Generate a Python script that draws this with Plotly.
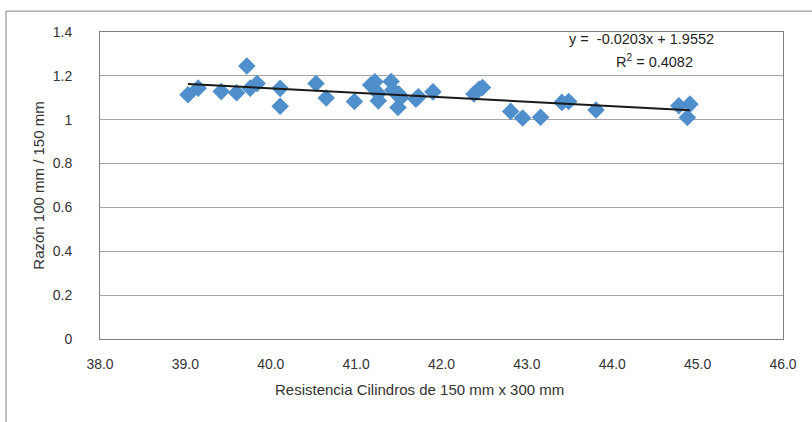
import plotly.graph_objects as go

resistencia = [39.03, 39.15, 39.42, 39.60, 39.72, 39.76, 39.84, 40.11, 40.11, 40.53,
               40.65, 40.98, 41.17, 41.22, 41.26, 41.26, 41.41, 41.43, 41.50, 41.49,
               41.52, 41.70, 41.73, 41.90, 42.38, 42.44, 42.48, 42.81, 42.95, 43.16,
               43.41, 43.49, 43.81, 44.78, 44.91, 44.88]
razon = [1.114, 1.144, 1.129, 1.123, 1.245, 1.144, 1.165, 1.143, 1.061, 1.165,
         1.099, 1.083, 1.158, 1.173, 1.120, 1.086, 1.174, 1.135, 1.117, 1.056,
         1.099, 1.094, 1.105, 1.127, 1.117, 1.139, 1.147, 1.038, 1.008, 1.011,
         1.079, 1.083, 1.044, 1.064, 1.071, 1.010]

slope = -0.0203
intercept = 1.9552
r2_text = "0.4082"

x_ticks = [38, 39, 40, 41, 42, 43, 44, 45, 46]
y_ticks = [0, 0.2, 0.4, 0.6, 0.8, 1.0, 1.2, 1.4]

x_title = "Resistencia Cilindros de 150 mm x 300 mm"
y_title = "Razón 100 mm / 150 mm"

trend_x = [min(resistencia), max(resistencia)]
trend_y = [slope * v + intercept for v in trend_x]

fig = go.Figure()
fig.add_trace(go.Scatter(
    x=resistencia, y=razon, mode="markers",
    marker=dict(symbol="diamond", size=13.5, color="#4F8FCC", line=dict(width=0)),
    showlegend=False, hoverinfo="x+y"))
fig.add_trace(go.Scatter(
    x=trend_x, y=trend_y, mode="lines",
    line=dict(color="#1a1a1a", width=2), showlegend=False))

font = "Liberation Sans, Arial, sans-serif"
fs_tick = 14
fs_title = 15
fs_ann = 14.5
txt = "#333333"
fig.update_layout(
    width=812, height=422,
    margin=dict(l=100, r=29, t=32, b=83),
    paper_bgcolor="white", plot_bgcolor="white",
    font=dict(family=font, size=fs_tick, color=txt),
    xaxis=dict(range=[38, 46], tickvals=x_ticks, tickformat=".1f",
               showgrid=False, zeroline=False, showline=True, linecolor="#808080",
               linewidth=1, mirror=True, ticks="", ticklabelstandoff=12,
               tickfont=dict(size=fs_tick, color=txt)),
    yaxis=dict(range=[0, 1.4], tickvals=y_ticks,
               showgrid=True, gridcolor="#A6A6A6", gridwidth=1.2,
               zeroline=False, showline=True, linecolor="#808080", linewidth=1,
               mirror=True, ticks="", ticklabelstandoff=24,
               tickfont=dict(size=fs_tick, color=txt),
               title=dict(text=y_title,
                          font=dict(size=fs_title, color=txt), standoff=4)),
    shapes=[
        dict(type="line", xref="paper", yref="paper",
             x0=-0.1376, x1=1.05, y0=1.068, y1=1.068,
             line=dict(color="#808080", width=1)),
        dict(type="line", xref="paper", yref="paper",
             x0=-0.1376, x1=-0.1376, y0=1.068, y1=-0.3,
             line=dict(color="#808080", width=1)),
    ],
    annotations=[
        dict(text=x_title, xref="paper", yref="paper",
             x=0.4685, y=-0.163, xanchor="center", yanchor="middle", showarrow=False,
             font=dict(size=fs_title, color=txt)),
        dict(text="y =  -0.0203x + 1.9552", xref="x", yref="y",
             x=45.22, y=1.37, xanchor="right", yanchor="middle", showarrow=False,
             font=dict(size=fs_ann, color="#1f1f1f")),
        dict(text="R<sup>2</sup> = " + r2_text, xref="x", yref="y",
             x=44.5, y=1.268, xanchor="center", yanchor="middle", showarrow=False,
             font=dict(size=fs_ann, color="#1f1f1f")),
    ],
)

fig.write_html("out.html")
